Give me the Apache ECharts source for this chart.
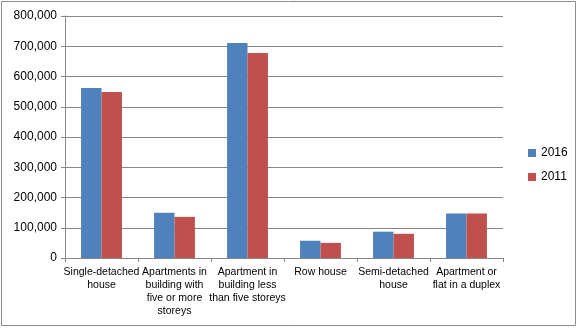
<!DOCTYPE html>
<html><head><meta charset="utf-8">
<script src="https://cdn.jsdelivr.net/npm/echarts@6/dist/echarts.min.js"></script>
<style>html,body{margin:0;padding:0;background:#fff}#c{width:578px;height:328px}</style>
</head><body><div id="c"></div>
<script>
const categories = ["Single-detached\nhouse", "Apartments in\nbuilding with\nfive or more\nstoreys", "Apartment in\nbuilding less\nthan five storeys", "Row house", "Semi-detached\nhouse", "Apartment or\nflat in a duplex"];
const values2016 = [562000, 150000, 711000, 57000, 87000, 147000];
const values2011 = [549000, 136000, 678000, 50000, 80000, 147000];
const seriesNames = ["2016", "2011"];
const yTicks = {min: 0, max: 800000, interval: 100000};

const chart = echarts.init(document.getElementById('c'), null, {renderer: 'canvas'});
const font = 'Liberation Sans';
chart.setOption({
  animation: false,
  textStyle: {fontFamily: font},
  graphic: [{type: 'rect', shape: {x: 1.5, y: 1.5, width: 574, height: 324}, style: {fill: 'none', stroke: '#8c8c8c', lineWidth: 1}}],
  grid: {left: 65, right: 75, top: 16, bottom: 70},
  legend: {
    orient: 'vertical', left: 523, top: 142, itemWidth: 8, itemHeight: 8, itemGap: 12,
    icon: 'rect', textStyle: {fontSize: 12, color: '#000', fontFamily: font}, data: seriesNames
  },
  xAxis: {
    type: 'category', data: categories,
    axisLine: {lineStyle: {color: '#868686'}},
    axisTick: {show: true, length: 4, lineStyle: {color: '#868686'}},
    axisLabel: {interval: 0, fontSize: 10.5, color: '#000', lineHeight: 13, margin: 8}
  },
  yAxis: {
    type: 'value', min: yTicks.min, max: yTicks.max, interval: yTicks.interval,
    axisLine: {show: true, lineStyle: {color: '#868686'}},
    axisTick: {show: true, length: 4, lineStyle: {color: '#868686'}},
    splitLine: {lineStyle: {color: '#868686'}},
    axisLabel: {fontSize: 12, color: '#000', margin: 8,
      formatter: v => v.toLocaleString('en-US')}
  },
  series: [
    {name: seriesNames[0], type: 'bar', data: values2016, itemStyle: {color: '#4F81BD'}, barGap: '0%', barCategoryGap: '44%'},
    {name: seriesNames[1], type: 'bar', data: values2011, itemStyle: {color: '#C0504D'}, barGap: '0%', barCategoryGap: '44%'}
  ]
});
</script></body></html>
